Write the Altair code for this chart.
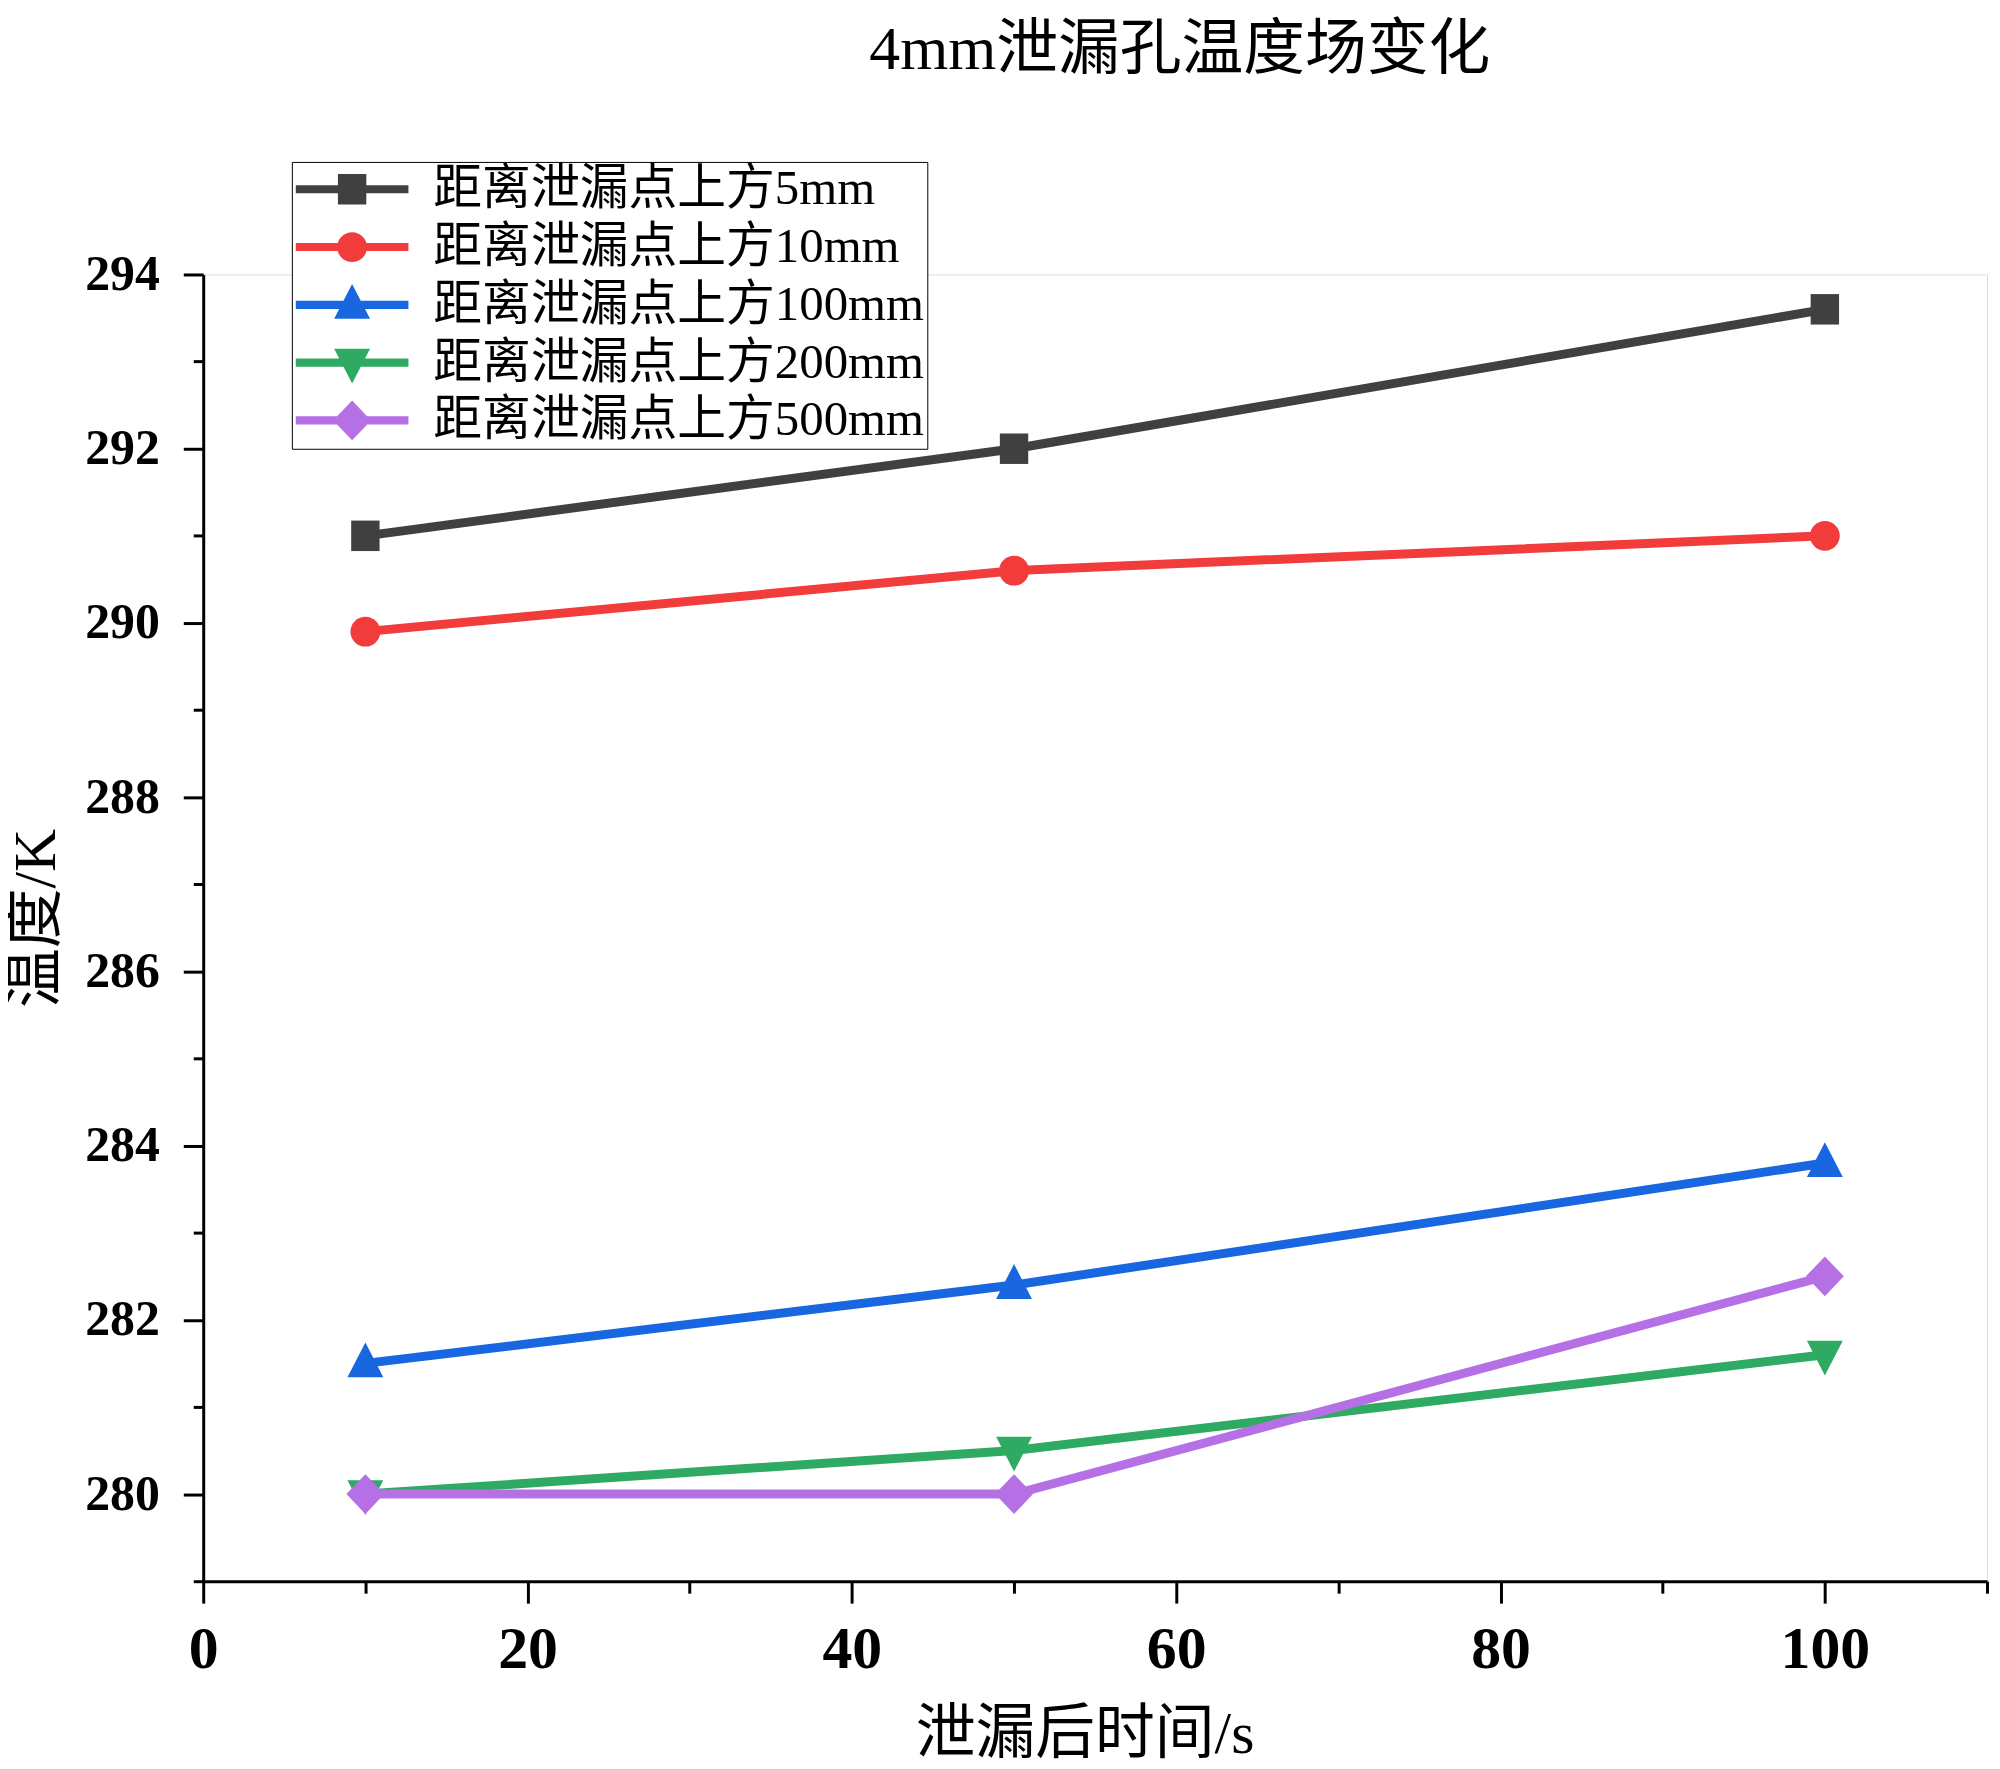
import altair as alt
import pandas as pd

FONT = "Liberation Serif, Noto Sans CJK SC"

# ---- data ----
times = [10, 50, 100]
series_names = [
    "距离泄漏点上方5mm",
    "距离泄漏点上方10mm",
    "距离泄漏点上方100mm",
    "距离泄漏点上方200mm",
    "距离泄漏点上方500mm",
]
t_5mm = [291.0, 292.0, 293.6]
t_10mm = [289.9, 290.6, 291.0]
t_100mm = [281.5, 282.4, 283.8]
t_200mm = [280.0, 280.5, 281.6]
t_500mm = [280.0, 280.0, 282.5]

colors = ["#404040", "#f23b3b", "#1967e0", "#2faa62", "#b670e6"]
x_ticks = list(range(0, 111, 10))
y_ticks = list(range(279, 295))

# marker shapes (unit paths, all wound clockwise)
marker_paths = [
    "M-0.95,-1.02H0.95V1.02H-0.95Z",
    "M-1,0A1,1 0 1,1 1,0A1,1 0 1,1 -1,0Z",
    "M0,-1.4L1.2,0.93H-1.2Z",
    "M0,1.4L-1.2,-0.93H1.2Z",
    "M0,-1.33L1.27,0L0,1.33L-1.27,0Z",
]
line_path = "M-3.77,-0.27H3.77V0.27H-3.77Z"
legend_paths = [line_path + " " + m for m in marker_paths]

rows = []
for name, vals in zip(series_names, [t_5mm, t_10mm, t_100mm, t_200mm, t_500mm]):
    for t, v in zip(times, vals):
        rows.append({"time": t, "temp": v, "series": name, "legend_series": name})
df = pd.DataFrame(rows)

x_enc = alt.X(
    "time:Q",
    scale=alt.Scale(domain=[0, 110], nice=False, zero=False),
    axis=alt.Axis(
        values=x_ticks,
        labelExpr="datum.value % 20 == 0 ? datum.label : ''",
        tickSize={"condition": {"test": "datum.value % 20 == 0", "value": 22}, "value": 12},
        tickWidth=3, tickColor="black", domainColor="black", domainWidth=3,
        labelFont=FONT, labelFontSize=60, labelFontWeight="bold", labelColor="black",
        labelPadding=18, labelFlush=False, labelOverlap=False,
        title="泄漏后时间/s", titleFont=FONT, titleFontSize=60, titleFontWeight="normal",
        titleColor="black", titleX=885, titleY=154, titleBaseline="middle", titleAlign="center",
        grid=False,
    ),
)
y_enc = alt.Y(
    "temp:Q",
    scale=alt.Scale(domain=[279, 294], nice=False, zero=False),
    axis=alt.Axis(
        values=y_ticks,
        labelExpr="datum.value % 2 == 0 ? datum.label : ''",
        tickSize={"condition": {"test": "datum.value % 2 == 0", "value": 20}, "value": 10},
        tickWidth=3, tickColor="black", domainColor="black", domainWidth=3,
        labelFont=FONT, labelFontSize=50, labelFontWeight="bold", labelColor="black",
        labelPadding=24, labelOverlap=False,
        title="温度/K", titleFont=FONT, titleFontSize=60, titleFontWeight="normal",
        titleColor="black", titleX=-167, titleY=646, titleBaseline="middle", titleAlign="center",
        titleAngle=270, grid=False,
    ),
)

color_main = alt.Color("series:N", scale=alt.Scale(domain=series_names, range=colors), legend=None)

base = alt.Chart(df)

lines = base.mark_line(strokeWidth=9).encode(x=x_enc, y=y_enc, color=color_main)

points = base.mark_point(filled=True, opacity=1, size=900, strokeWidth=0).encode(
    x=x_enc, y=y_enc, color=color_main,
    shape=alt.Shape("series:N", scale=alt.Scale(domain=series_names, range=marker_paths), legend=None),
)

legend_def = alt.Legend(
    orient="none", legendX=89, legendY=-113, direction="vertical", title=None,
    symbolSize=900, symbolStrokeWidth=0, symbolOpacity=1, symbolOffset=33,
    labelFont=FONT, labelFontSize=49, labelColor="black", labelLimit=0, labelOffset=57,
    rowPadding=8, padding=3, strokeColor="black", fillColor="white",
)

legend_layer = base.mark_point(filled=True, opacity=0, size=900, strokeWidth=0).encode(
    x=x_enc, y=y_enc,
    color=alt.Color("legend_series:N", scale=alt.Scale(domain=series_names, range=colors),
                    legend=legend_def, title=None),
    shape=alt.Shape("legend_series:N", scale=alt.Scale(domain=series_names, range=legend_paths),
                    legend=legend_def, title=None),
)

chart = (
    alt.layer(lines, points, legend_layer)
    .resolve_scale(color="independent", shape="independent")
    .properties(
        width=1791, height=1312,
        autosize=alt.AutoSizeParams(type="none"),
        padding={"left": 196, "top": 264, "right": 5, "bottom": 185},
        title=alt.TitleParams(
            "4mm泄漏孔温度场变化", font=FONT, fontSize=62, fontWeight="normal",
            color="black", anchor="middle", dx=85, offset=80,
        ),
    )
    .configure_view(strokeWidth=0)
    .configure_legend(strokeWidth=3)
    .configure(background="white")
)

chart.save("out.html", embed_options={"renderer": "svg", "actions": False})
